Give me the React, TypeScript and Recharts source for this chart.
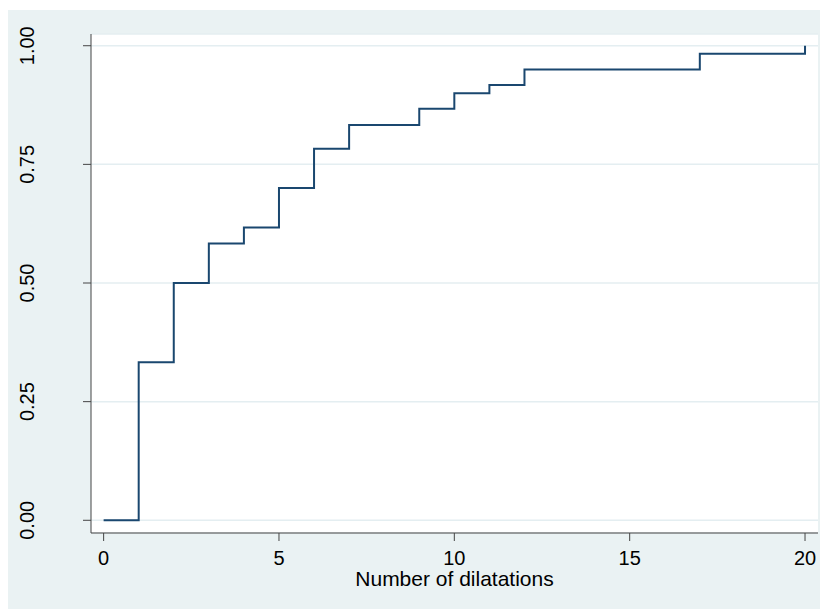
import React from "react";
import { LineChart, Line, XAxis, YAxis, CartesianGrid } from "recharts";

const dilatations = [0, 1, 2, 3, 4, 5, 6, 7, 9, 10, 11, 12, 17, 20];
const cumulative = [0, 0.333, 0.5, 0.583, 0.617, 0.7, 0.783, 0.833, 0.867, 0.9, 0.917, 0.95, 0.983, 1.0];
const xTicks = [0, 5, 10, 15, 20];
const yTicks = [0, 0.25, 0.5, 0.75, 1.0];

const data = dilatations.map((x, i) => ({ x, y: cumulative[i] }));

const FONT = "'Liberation Sans', Arial, sans-serif";

const YTick = (props: any) => {
  const { y, payload } = props;
  return (
    <text
      x={26}
      y={y}
      transform={`rotate(-90, 26, ${y})`}
      textAnchor="middle"
      fontSize={20}
      fontFamily={FONT}
      fill="#000"
    >
      {Number(payload.value).toFixed(2)}
    </text>
  );
};

const XTitle = (props: any) => {
  const vb = props.viewBox;
  return (
    <text
      x={vb.x + vb.width / 2}
      y={vb.y + 53}
      textAnchor="middle"
      fontSize={21}
      fontFamily={FONT}
      fill="#000"
    >
      Number of dilatations
    </text>
  );
};

export default function App() {
  return (
    <div style={{ paddingTop: 2 }}>
      <div style={{ width: 820, height: 599, background: "#EAF2F3" }}>
        <LineChart
          width={820}
          height={599}
          data={data}
          margin={{ top: 24, right: 10, bottom: 0, left: 0 }}
        >
          <CartesianGrid vertical={false} stroke="#E4EEF1" strokeWidth={1.5} fill="#FFFFFF" fillOpacity={1} />
          <XAxis
            dataKey="x"
            type="number"
            domain={[-0.36, 20.37]}
            ticks={xTicks}
            allowDataOverflow
            height={76}
            tickSize={8}
            tickMargin={10}
            stroke="#444"
            tick={{ fill: "#000", fontSize: 20, fontFamily: FONT }}
            label={<XTitle />}
          />
          <YAxis
            type="number"
            domain={[-0.0268, 1.0247]}
            ticks={yTicks}
            allowDataOverflow
            width={83}
            tickSize={8}
            stroke="#444"
            tick={<YTick />}
          />
          <Line
            type="stepAfter"
            dataKey="y"
            stroke="#1A476F"
            strokeWidth={2}
            dot={false}
            isAnimationActive={false}
          />
        </LineChart>
      </div>
    </div>
  );
}
